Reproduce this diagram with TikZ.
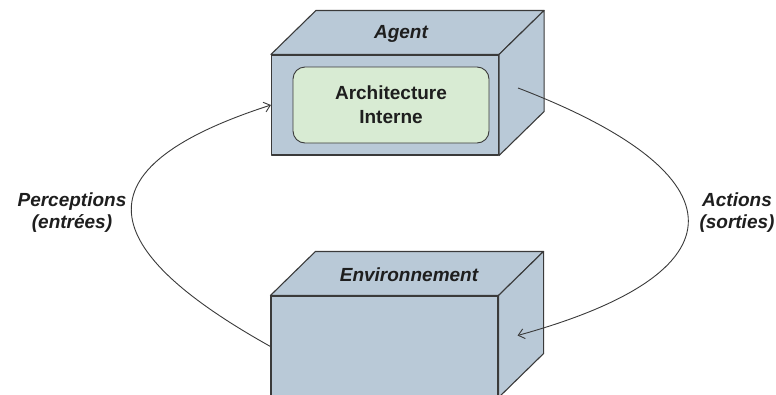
\documentclass[tikz,border=0pt]{standalone}
\usepackage{fontspec}
\setmainfont{Liberation Sans}
\usetikzlibrary{arrows.meta,calc,positioning}
\definecolor{boxblue}{HTML}{B9C9D7}
\definecolor{archgreen}{HTML}{D8EBD3}
\definecolor{edge}{HTML}{3A3A3A}
\definecolor{ink}{HTML}{1E1E1E}
\tikzset{
  face/.style={draw=edge,fill=boxblue,line width=1.1pt,line join=round},
  front/.style={face,minimum width=227pt,minimum height=100pt,inner sep=0pt},
  inner/.style={draw=edge,fill=archgreen,line width=0.9pt,rounded corners=12pt,
    minimum width=196pt,minimum height=76pt,align=center,text=ink,
    font=\fontsize{19}{24}\selectfont\bfseries},
  lbl/.style={align=center,text=ink,font=\fontsize{19}{22}\selectfont\bfseries\itshape},
  link/.style={draw=edge,line width=0.9pt,-{Straight Barb[length=6pt,width=10pt]}}
}
\begin{document}
\begin{tikzpicture}[x=1pt,y=-1pt]
\useasboundingbox (0,0) rectangle (776,394);
%boxes
\node[front] (agent) at (385,105){};
\node[front,minimum height=101pt] (env) at (384.5,346.5){};
\foreach \b in {agent,env}{
  \draw[face] (\b.north west)--++(45,-44)--($(\b.north east)+(45,-44)$)--(\b.north east)--cycle;
  \draw[face] (\b.north east)--++(45,-44)--($(\b.south east)+(45,-44)$)--(\b.south east)--cycle;
}
\node[inner] (arch) at (391,105){Architecture\\Interne};
%titles
\node[lbl] (agentlbl) at (401,34){Agent};
\node[lbl] (envlbl) at (409,275){Environnement};
%loop
\coordinate (agentout) at ($(agent.east)+(19,-17)$);
\coordinate (envin) at ($(env.east)+(19,-11)$);
\draw[link] (env.west) .. controls (85,243) and (85,165) .. (agent.west);
\draw[link] (agentout) .. controls (745,175) and (745,273) .. (envin);
%labels
\node[lbl] (perc) at (72,213){Perceptions\\(entrées)};
\node[lbl] (act) at (737,213){Actions\\(sorties)};
\end{tikzpicture}
\end{document}
